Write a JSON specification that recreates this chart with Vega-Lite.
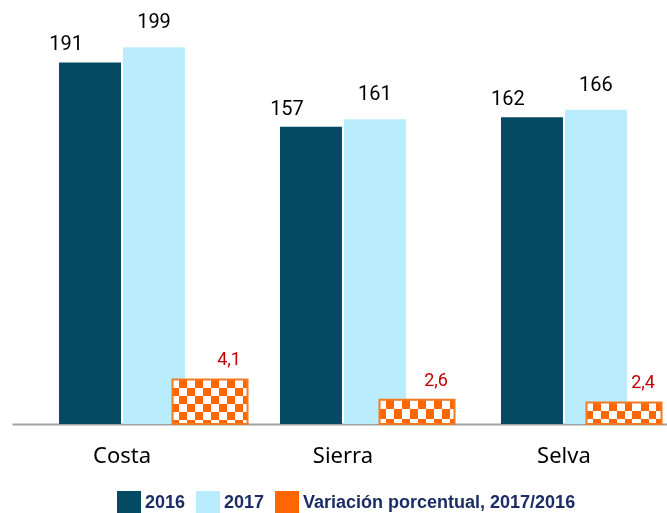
{
  "$schema": "https://vega.github.io/schema/vega-lite/v6.json",
  "width": 655,
  "height": 424,
  "autosize": {"type": "none"},
  "padding": {"left": 12, "top": 0, "right": 0, "bottom": 89},
  "background": "#ffffff",
  "config": {
    "view": {"stroke": null},
    "locale": {"number": {"decimal": ",", "thousands": ".", "grouping": [3], "currency": ["", " €"]}},
    "legend": {
      "orient": "none", "legendX": 105, "legendY": 491, "direction": "horizontal", "padding": 0,
      "symbolType": "square", "symbolSize": 576, "symbolStrokeWidth": 0,
      "labelFont": "Liberation Sans", "labelFontWeight": "bold", "labelFontSize": 18,
      "labelColor": "#1b2c66", "labelOffset": 4, "columnPadding": 10, "labelLimit": 400
    }
  },
  "data": {"values": [
    {"region": "Costa", "serie": "2016", "valor": 191},
    {"region": "Costa", "serie": "2017", "valor": 199},
    {"region": "Costa", "serie": "Variación porcentual, 2017/2016", "valor": 4.1},
    {"region": "Sierra", "serie": "2016", "valor": 157},
    {"region": "Sierra", "serie": "2017", "valor": 161},
    {"region": "Sierra", "serie": "Variación porcentual, 2017/2016", "valor": 2.6},
    {"region": "Selva", "serie": "2016", "valor": 162},
    {"region": "Selva", "serie": "2017", "valor": 166},
    {"region": "Selva", "serie": "Variación porcentual, 2017/2016", "valor": 2.4}
  ]},
  "resolve": {"scale": {"x": "independent", "y": "independent"}},
  "layer": [
    {
      "transform": [{"filter": "datum.serie !== 'Variación porcentual, 2017/2016'"}],
      "encoding": {
        "x": {"field": "region", "type": "nominal", "sort": ["Costa", "Sierra", "Selva"],
          "scale": {"paddingInner": 0.4299, "paddingOuter": 0.197, "align": 0.54},
          "axis": {"title": null, "labelAngle": 0, "ticks": false, "tickSize": 0, "labelPadding": 21,
            "labelFont": "Noto Sans", "labelFontSize": 22, "labelColor": "#000000",
            "domainColor": "#a0a0a0", "domainWidth": 2, "grid": false}},
        "xOffset": {"field": "serie", "type": "nominal", "scale": {"domain": ["2016", "2017"], "paddingInner": 0.03125, "paddingOuter": 0}},
        "y": {"field": "valor", "type": "quantitative", "scale": {"domain": [0, 224]}, "axis": null}
      },
      "layer": [
        {
          "mark": {"type": "bar", "strokeWidth": 0},
          "encoding": {
            "color": {"field": "serie", "type": "nominal", "title": null,
              "scale": {"domain": ["2016", "2017", "Variación porcentual, 2017/2016"], "range": ["#034a62", "#b9ecfc", "#ff6600"]}}
          }
        },
        {
          "transform": [{"filter": "datum.serie === '2016'"}],
          "mark": {"type": "text", "baseline": "bottom", "dx": -24, "dy": -8, "font": "Roboto", "fontSize": 20, "color": "#000000"},
          "encoding": {"text": {"field": "valor", "type": "quantitative", "format": "d"}}
        },
        {
          "transform": [{"filter": "datum.serie === '2017'"}],
          "mark": {"type": "text", "baseline": "bottom", "dx": 0, "dy": -15, "font": "Roboto", "fontSize": 20, "color": "#000000"},
          "encoding": {"text": {"field": "valor", "type": "quantitative", "format": "d"}}
        }
      ]
    },
    {
      "transform": [{"filter": "datum.serie === 'Variación porcentual, 2017/2016'"}],
      "encoding": {
        "x": {"field": "region", "type": "nominal", "sort": ["Costa", "Sierra", "Selva"],
          "scale": {"paddingInner": 0.6377, "paddingOuter": 0.401, "align": 0.967}, "axis": null},
        "y": {"field": "valor", "type": "quantitative", "scale": {"domain": [0.81, 32.15], "zero": false}, "axis": null},
        "y2": {"datum": 0.81}
      },
      "layer": [
        {
          "mark": {"type": "bar", "strokeWidth": 0, "fill": {"gradient": "linear", "x1": 0, "y1": 0, "x2": 1, "y2": 0, "stops": [
            {"offset": 0, "color": "#ffffff"}, {"offset": 0.08, "color": "#ffffff"},
            {"offset": 0.08, "color": "#000000"}, {"offset": 0.187, "color": "#000000"},
            {"offset": 0.187, "color": "#ffffff"}, {"offset": 0.293, "color": "#ffffff"},
            {"offset": 0.293, "color": "#000000"}, {"offset": 0.4, "color": "#000000"},
            {"offset": 0.4, "color": "#ffffff"}, {"offset": 0.507, "color": "#ffffff"},
            {"offset": 0.507, "color": "#000000"}, {"offset": 0.613, "color": "#000000"},
            {"offset": 0.613, "color": "#ffffff"}, {"offset": 0.72, "color": "#ffffff"},
            {"offset": 0.72, "color": "#000000"}, {"offset": 0.827, "color": "#000000"},
            {"offset": 0.827, "color": "#ffffff"}, {"offset": 0.933, "color": "#ffffff"},
            {"offset": 0.933, "color": "#000000"}, {"offset": 1, "color": "#000000"}
          ]}}
        },
        {
          "transform": [{"filter": "datum.region === 'Costa'"}],
          "mark": {"type": "bar", "strokeWidth": 0, "blend": "difference", "fill": {"gradient": "linear", "x1": 0, "y1": 0, "x2": 0, "y2": 1, "stops": [
            {"offset": 0, "color": "#000000"}, {"offset": 0.2, "color": "#000000"},
            {"offset": 0.2, "color": "#ffffff"}, {"offset": 0.38, "color": "#ffffff"},
            {"offset": 0.38, "color": "#000000"}, {"offset": 0.56, "color": "#000000"},
            {"offset": 0.56, "color": "#ffffff"}, {"offset": 0.74, "color": "#ffffff"},
            {"offset": 0.74, "color": "#000000"}, {"offset": 0.92, "color": "#000000"},
            {"offset": 0.92, "color": "#ffffff"}, {"offset": 1, "color": "#ffffff"}
          ]}}
        },
        {
          "transform": [{"filter": "datum.region !== 'Costa'"}],
          "mark": {"type": "bar", "strokeWidth": 0, "blend": "difference", "fill": {"gradient": "linear", "x1": 0, "y1": 0, "x2": 0, "y2": 1, "stops": [
            {"offset": 0, "color": "#000000"}, {"offset": 0.4, "color": "#000000"},
            {"offset": 0.4, "color": "#ffffff"}, {"offset": 0.78, "color": "#ffffff"},
            {"offset": 0.78, "color": "#000000"}, {"offset": 1, "color": "#000000"}
          ]}}
        },
        {
          "mark": {"type": "bar", "strokeWidth": 0, "blend": "screen", "fill": "#ff6600"}
        },
        {
          "mark": {"type": "bar", "filled": false, "stroke": "#f37a22", "strokeWidth": 2}
        },
        {
          "mark": {"type": "text", "baseline": "bottom", "dx": 19, "dy": -10, "font": "Roboto", "fontSize": 18, "color": "#c00000"},
          "encoding": {"text": {"field": "valor", "type": "quantitative", "format": ".1f"}, "y2": null}
        }
      ]
    }
  ]
}
